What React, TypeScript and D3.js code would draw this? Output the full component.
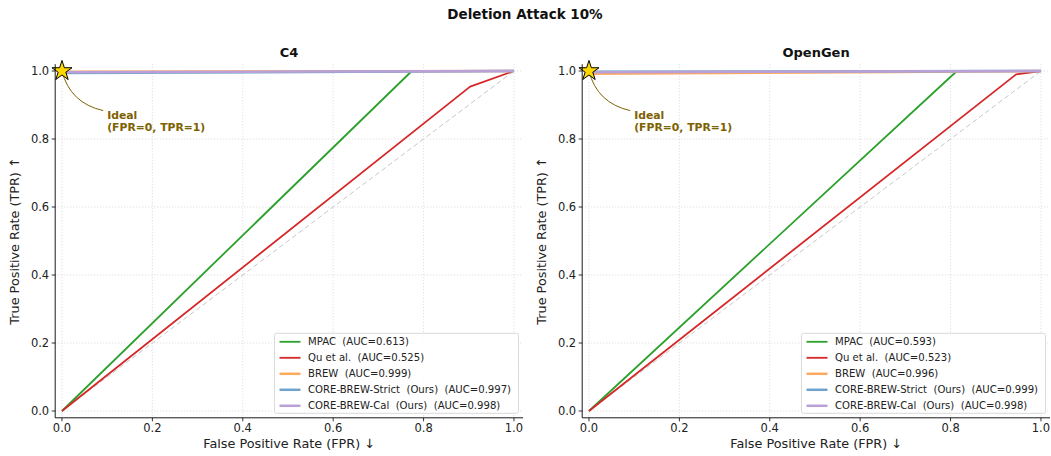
import React from "react";
import * as d3 from "d3";

const title = "Deletion Attack 10%";
const panelTitles = ["C4", "OpenGen"];
const xTicks = [0, 0.2, 0.4, 0.6, 0.8, 1.0];
const yTicks = [0, 0.2, 0.4, 0.6, 0.8, 1.0];

const seriesNames = ["MPAC", "Qu et al.", "BREW", "CORE-BREW-Strict  (Ours)", "CORE-BREW-Cal  (Ours)"];
const seriesColors = ["#2ca02c", "#d62728", "#ffa95e", "#6fa3cc", "#b9a0d6"];
const seriesWidths = [1.8, 1.8, 2.5, 2.5, 2.5];

// C4 curves (FPR, TPR)
const c4MPAC: [number, number][] = [[0, 0], [0.774, 1.0], [1, 1]];
const c4Qu: [number, number][] = [[0, 0], [0.903, 0.954], [1, 1]];
const c4BREW: [number, number][] = [[0, 0.998], [1, 1]];
const c4Strict: [number, number][] = [[0, 0.994], [1, 1]];
const c4Cal: [number, number][] = [[0, 0.996], [1, 1]];
const c4AUC = ["0.613", "0.525", "0.999", "0.997", "0.998"];

// OpenGen curves
const ogMPAC: [number, number][] = [[0, 0], [0.814, 1.0], [1, 1]];
const ogQu: [number, number][] = [[0, 0], [0.945, 0.99], [1, 1]];
const ogBREW: [number, number][] = [[0, 0.992], [1, 1]];
const ogStrict: [number, number][] = [[0, 0.998], [1, 1]];
const ogCal: [number, number][] = [[0, 0.996], [1, 1]];
const ogAUC = ["0.593", "0.523", "0.996", "0.999", "0.998"];

const panels = [
  { curves: [c4MPAC, c4Qu, c4BREW, c4Strict, c4Cal], auc: c4AUC },
  { curves: [ogMPAC, ogQu, ogBREW, ogStrict, ogCal], auc: ogAUC },
];

const font = "DejaVu Sans, sans-serif";
const W = 1051, H = 456;
const xlim: [number, number] = [-0.015, 1.02];
const ylim: [number, number] = [-0.02, 1.02];

function Panel({ idx, left, right }: { idx: number; left: number; right: number }) {
  const top = 64.2, bottom = 417.8;
  const x = d3.scaleLinear().domain(xlim).range([left, right]);
  const y = d3.scaleLinear().domain(ylim).range([bottom, top]);
  const line = d3.line<[number, number]>().x((d) => x(d[0])).y((d) => y(d[1]));
  const p = panels[idx];
  const drawOrder = [0, 1, 2, 3, 4];
  const starPath = d3.symbol().type(d3.symbolStar).size(125)() as string;
  const sx = x(0), sy = y(1);
  const tx = x(0.1), ty = y(0.86);
  const legW = 244, legH = 80;
  const legX = right - 4.5 - legW, legY = bottom - 4.5 - legH;
  return (
    <g>
      {/* grid */}
      {xTicks.map((t) => (
        <line key={"gx" + t} x1={x(t)} x2={x(t)} y1={top} y2={bottom} stroke="#d0d0d0" strokeWidth={0.8} strokeDasharray="1,2" />
      ))}
      {yTicks.map((t) => (
        <line key={"gy" + t} x1={left} x2={right} y1={y(t)} y2={y(t)} stroke="#d0d0d0" strokeWidth={0.8} strokeDasharray="1,2" />
      ))}
      {/* diagonal */}
      <line x1={x(0)} y1={y(0)} x2={x(1)} y2={y(1)} stroke="#c8c8c8" strokeWidth={1} strokeDasharray="5,3" />
      {drawOrder.map((i) => (
        <path key={"s" + i} d={line(p.curves[i]) as string} fill="none" stroke={seriesColors[i]} strokeWidth={seriesWidths[i]} strokeLinejoin="round" />
      ))}
      {/* annotation */}
      <path d={`M${tx - 4},${ty - 8} Q${sx + 8},${sy + 32} ${sx},${sy}`} fill="none" stroke="#7d6200" strokeWidth={1} />
      <path d={starPath} transform={`translate(${sx},${sy})`} fill="#ffd700" stroke="#000" strokeWidth={1} />
      <text x={tx} y={ty} fontFamily={font} fontSize={10.8} fontWeight="bold" fill="#7d6200">
        <tspan x={tx} dy={0}>Ideal</tspan>
        <tspan x={tx} dy={12.5}>(FPR=0, TPR=1)</tspan>
      </text>
      {/* spines */}
      <line x1={left} x2={left} y1={top} y2={bottom} stroke="#000" strokeWidth={0.9} />
      <line x1={left} x2={right} y1={bottom} y2={bottom} stroke="#000" strokeWidth={0.9} />
      {xTicks.map((t) => (
        <g key={"xt" + t}>
          <line x1={x(t)} x2={x(t)} y1={bottom} y2={bottom + 3.5} stroke="#000" strokeWidth={0.8} />
          <text x={x(t)} y={bottom + 14.5} textAnchor="middle" fontFamily={font} fontSize={11.5} fill="#222">{t.toFixed(1)}</text>
        </g>
      ))}
      {yTicks.map((t) => (
        <g key={"yt" + t}>
          <line x1={left} x2={left - 3.5} y1={y(t)} y2={y(t)} stroke="#000" strokeWidth={0.8} />
          <text x={left - 6} y={y(t) + 4} textAnchor="end" fontFamily={font} fontSize={11.5} fill="#222">{t.toFixed(1)}</text>
        </g>
      ))}
      <text x={(left + right) / 2} y={448} textAnchor="middle" fontFamily={font} fontSize={12.8} fill="#222">False Positive Rate (FPR) ↓</text>
      <text transform={`translate(${left - 36.5},${(top + bottom) / 2}) rotate(-90)`} textAnchor="middle" fontFamily={font} fontSize={12.8} fill="#222">True Positive Rate (TPR) ↑</text>
      <text x={(left + right) / 2} y={57} textAnchor="middle" fontFamily={font} fontSize={13} fontWeight="bold" fill="#111">{panelTitles[idx]}</text>
      {/* legend */}
      <rect x={legX} y={legY} width={legW} height={legH} rx={2} fill="#fff" fillOpacity={0.85} stroke="#d0d0d0" strokeWidth={0.8} />
      {seriesNames.map((n, i) => (
        <g key={"l" + i}>
          <line x1={legX + 5} x2={legX + 26} y1={legY + 8.5 + i * 16} y2={legY + 8.5 + i * 16} stroke={seriesColors[i]} strokeWidth={seriesWidths[i]} />
          <text x={legX + 33.5} y={legY + 12 + i * 16} fontFamily={font} fontSize={10.1} fill="#222" style={{ whiteSpace: "pre" }}>
            {`${n}  (AUC=${p.auc[i]})`}
          </text>
        </g>
      ))}
    </g>
  );
}

export default function App() {
  return (
    <svg width={W} height={H} style={{ position: "absolute", left: 0, top: 0, background: "#fff" }}>
      <rect width={W} height={H} fill="#fff" />
      <text x={525} y={19} textAnchor="middle" fontFamily={font} fontSize={13.5} fontWeight="bold" fill="#111">{title}</text>
      <Panel idx={0} left={55.2} right={523} />
      <Panel idx={1} left={582.2} right={1050} />
    </svg>
  );
}
